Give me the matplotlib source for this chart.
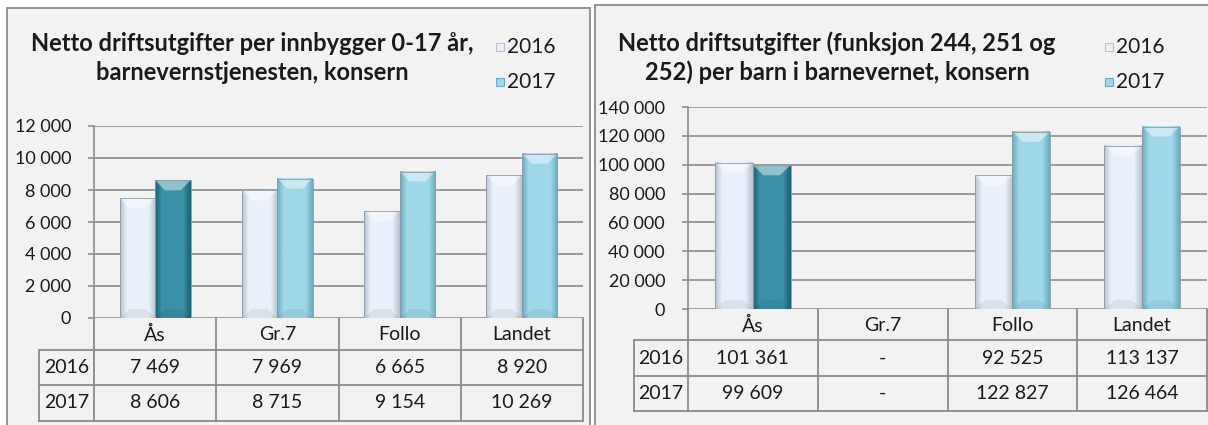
import numpy as np
import matplotlib
matplotlib.use("Agg")
import matplotlib.pyplot as plt
from matplotlib.colors import LinearSegmentedColormap
from matplotlib.patches import Rectangle, Polygon
from matplotlib.ticker import FuncFormatter

W, H = 1208, 425

categories = ["Ås", "Gr.7", "Follo", "Landet"]
years = ["2016", "2017"]
highlight = "Ås"

left_title = ["Netto driftsutgifter per innbygger 0-17 år,",
              "barnevernstjenesten, konsern"]
left_2016 = [7469, 7969, 6665, 8920]
left_2017 = [8606, 8715, 9154, 10269]
left_yticks = [0, 2000, 4000, 6000, 8000, 10000, 12000]

right_title = ["Netto driftsutgifter (funksjon 244, 251 og",
               "252) per barn i barnevernet, konsern"]
right_2016 = [101361, None, 92525, 113137]
right_2017 = [99609, None, 122827, 126464]
right_yticks = [0, 20000, 40000, 60000, 80000, 100000, 120000, 140000]

plt.rcParams['font.family'] = ['Lato', 'DejaVu Sans']

GRID = '#8c8c8c'
TXT = '#1a1a1a'
FS = 14
# (edge, middle) colours for the bar gradients
C16 = ('#b9c3cf', '#e8f0fa')
C17 = ('#6aabbf', '#9fd8e8')
C17_HL = ('#1c5f72', '#3a90a7')

fig = plt.figure(figsize=(W / 100, H / 100), dpi=100)
fig.patch.set_facecolor('white')
ov = fig.add_axes([0, 0, 1, 1])
ov.set_xlim(0, W)
ov.set_ylim(H, 0)
ov.axis('off')


def px_rect(x0, y0, x1, y1):
    return [x0 / W, 1 - y1 / H, (x1 - x0) / W, (y1 - y0) / H]


def fmt(v):
    if v is None:
        return "-"
    return f"{v:,.0f}".replace(",", " ")


def draw_bar(ax, xc, h, w, cols, dh):
    x0 = xc - w / 2
    edge, mid = cols
    cmap = LinearSegmentedColormap.from_list(
        'b', [(0, edge), (0.18, mid), (0.8, mid), (1, edge)])
    ax.imshow(np.linspace(0, 1, 64)[None, :], cmap=cmap, aspect='auto',
              extent=[x0, x0 + w, 0, h], zorder=3, interpolation='bilinear')
    # light bevel at the top
    ax.add_patch(Polygon([(x0, h), (x0 + w, h), (x0 + w * 0.72, h - dh),
                          (x0 + w * 0.28, h - dh)], closed=True,
                         facecolor='white', alpha=0.45, lw=0, zorder=4))
    # slightly darker bevel at the bottom
    ax.add_patch(Polygon([(x0, 0), (x0 + w, 0), (x0 + w * 0.72, dh * 0.9),
                          (x0 + w * 0.28, dh * 0.9)], closed=True,
                         facecolor='black', alpha=0.06, lw=0, zorder=4))
    ax.add_patch(Rectangle((x0, 0), w, h, fill=False, edgecolor='#8a9aa6',
                           lw=0.6, zorder=5))


def panel(box, frame, title, tcx, legx, v16, v17, yticks, rows, year_left):
    x0, y0, x1, y1 = box
    fx0, fy0, fx1 = frame
    ov.add_patch(Rectangle((fx0, fy0), fx1 - fx0, H + 10 - fy0,
                           facecolor='#f2f2f2', edgecolor='#8a8a8a', lw=1.3,
                           zorder=0))
    for k, line in enumerate(title):
        ov.text(tcx, 43 + 29 * k, line, ha='center', va='center',
                fontsize=17, fontweight='bold', color=TXT)
    for k, (yr, cols) in enumerate(zip(years, [C16, C17])):
        ly = 47 + 35 * k
        ov.add_patch(Rectangle((legx, ly - 4), 8, 8, facecolor=cols[1],
                               edgecolor=cols[0], lw=0.8))
        ov.text(legx + 11, ly, yr, ha='left', va='center', fontsize=15,
                color=TXT)

    ax = fig.add_axes(px_rect(x0, y0, x1, y1), facecolor='none')
    n = len(categories)
    ymax = yticks[-1]
    dh = ymax / (y1 - y0) * 10
    w = 0.29
    for i, cat in enumerate(categories):
        if v16[i] is not None:
            draw_bar(ax, i - w / 2, v16[i], w, C16, dh)
        if v17[i] is not None:
            draw_bar(ax, i + w / 2, v17[i], w,
                     C17_HL if cat == highlight else C17, dh)
    ax.set_xlim(-0.5, n - 0.5)
    ax.set_ylim(0, ymax)
    ax.set_yticks(yticks)
    ax.yaxis.set_major_formatter(FuncFormatter(lambda v, p: fmt(v)))
    ax.set_xticks([])
    ax.grid(axis='y', color=GRID, lw=1.2)
    ax.set_axisbelow(True)
    for s in ['top', 'right', 'bottom']:
        ax.spines[s].set_visible(False)
    ax.spines['left'].set_color(GRID)
    ax.spines['left'].set_linewidth(1.2)
    ax.tick_params(axis='y', length=4.5, width=1.2, color=GRID, pad=12,
                   labelsize=13, labelcolor=TXT)

    # data table below the plot
    colw = (x1 - x0) / n
    r0, r1, r2 = rows
    lk = dict(color=GRID, lw=1.3, zorder=2)
    for k in range(n + 1):
        ov.plot([x0 + k * colw] * 2, [y1, r2], **lk)
    ov.plot([year_left, year_left], [r0, r2], **lk)
    for yy in (r0, r1, r2):
        ov.plot([year_left, x1], [yy, yy], **lk)
    tk = dict(ha='center', va='center', fontsize=FS, color=TXT)
    for i, cat in enumerate(categories):
        cx = x0 + (i + 0.5) * colw
        ov.text(cx, (y1 + r0) / 2 + 1, cat, **tk)
        ov.text(cx, (r0 + r1) / 2, fmt(v16[i]), **tk)
        ov.text(cx, (r1 + r2) / 2, fmt(v17[i]), **tk)
    ov.text((year_left + x0) / 2, (r0 + r1) / 2, years[0], **tk)
    ov.text((year_left + x0) / 2, (r1 + r2) / 2, years[1], **tk)


panel((94, 126, 583, 318), (7, 8, 590), left_title, 252, 496,
      left_2016, left_2017, left_yticks, (350, 385, 421), 39)
panel((688, 107, 1207, 309), (595, 5, 1216), right_title, 837, 1105,
      right_2016, right_2017, right_yticks, (340, 376, 411), 634)

fig.savefig("out.png", dpi=100, facecolor='white')
